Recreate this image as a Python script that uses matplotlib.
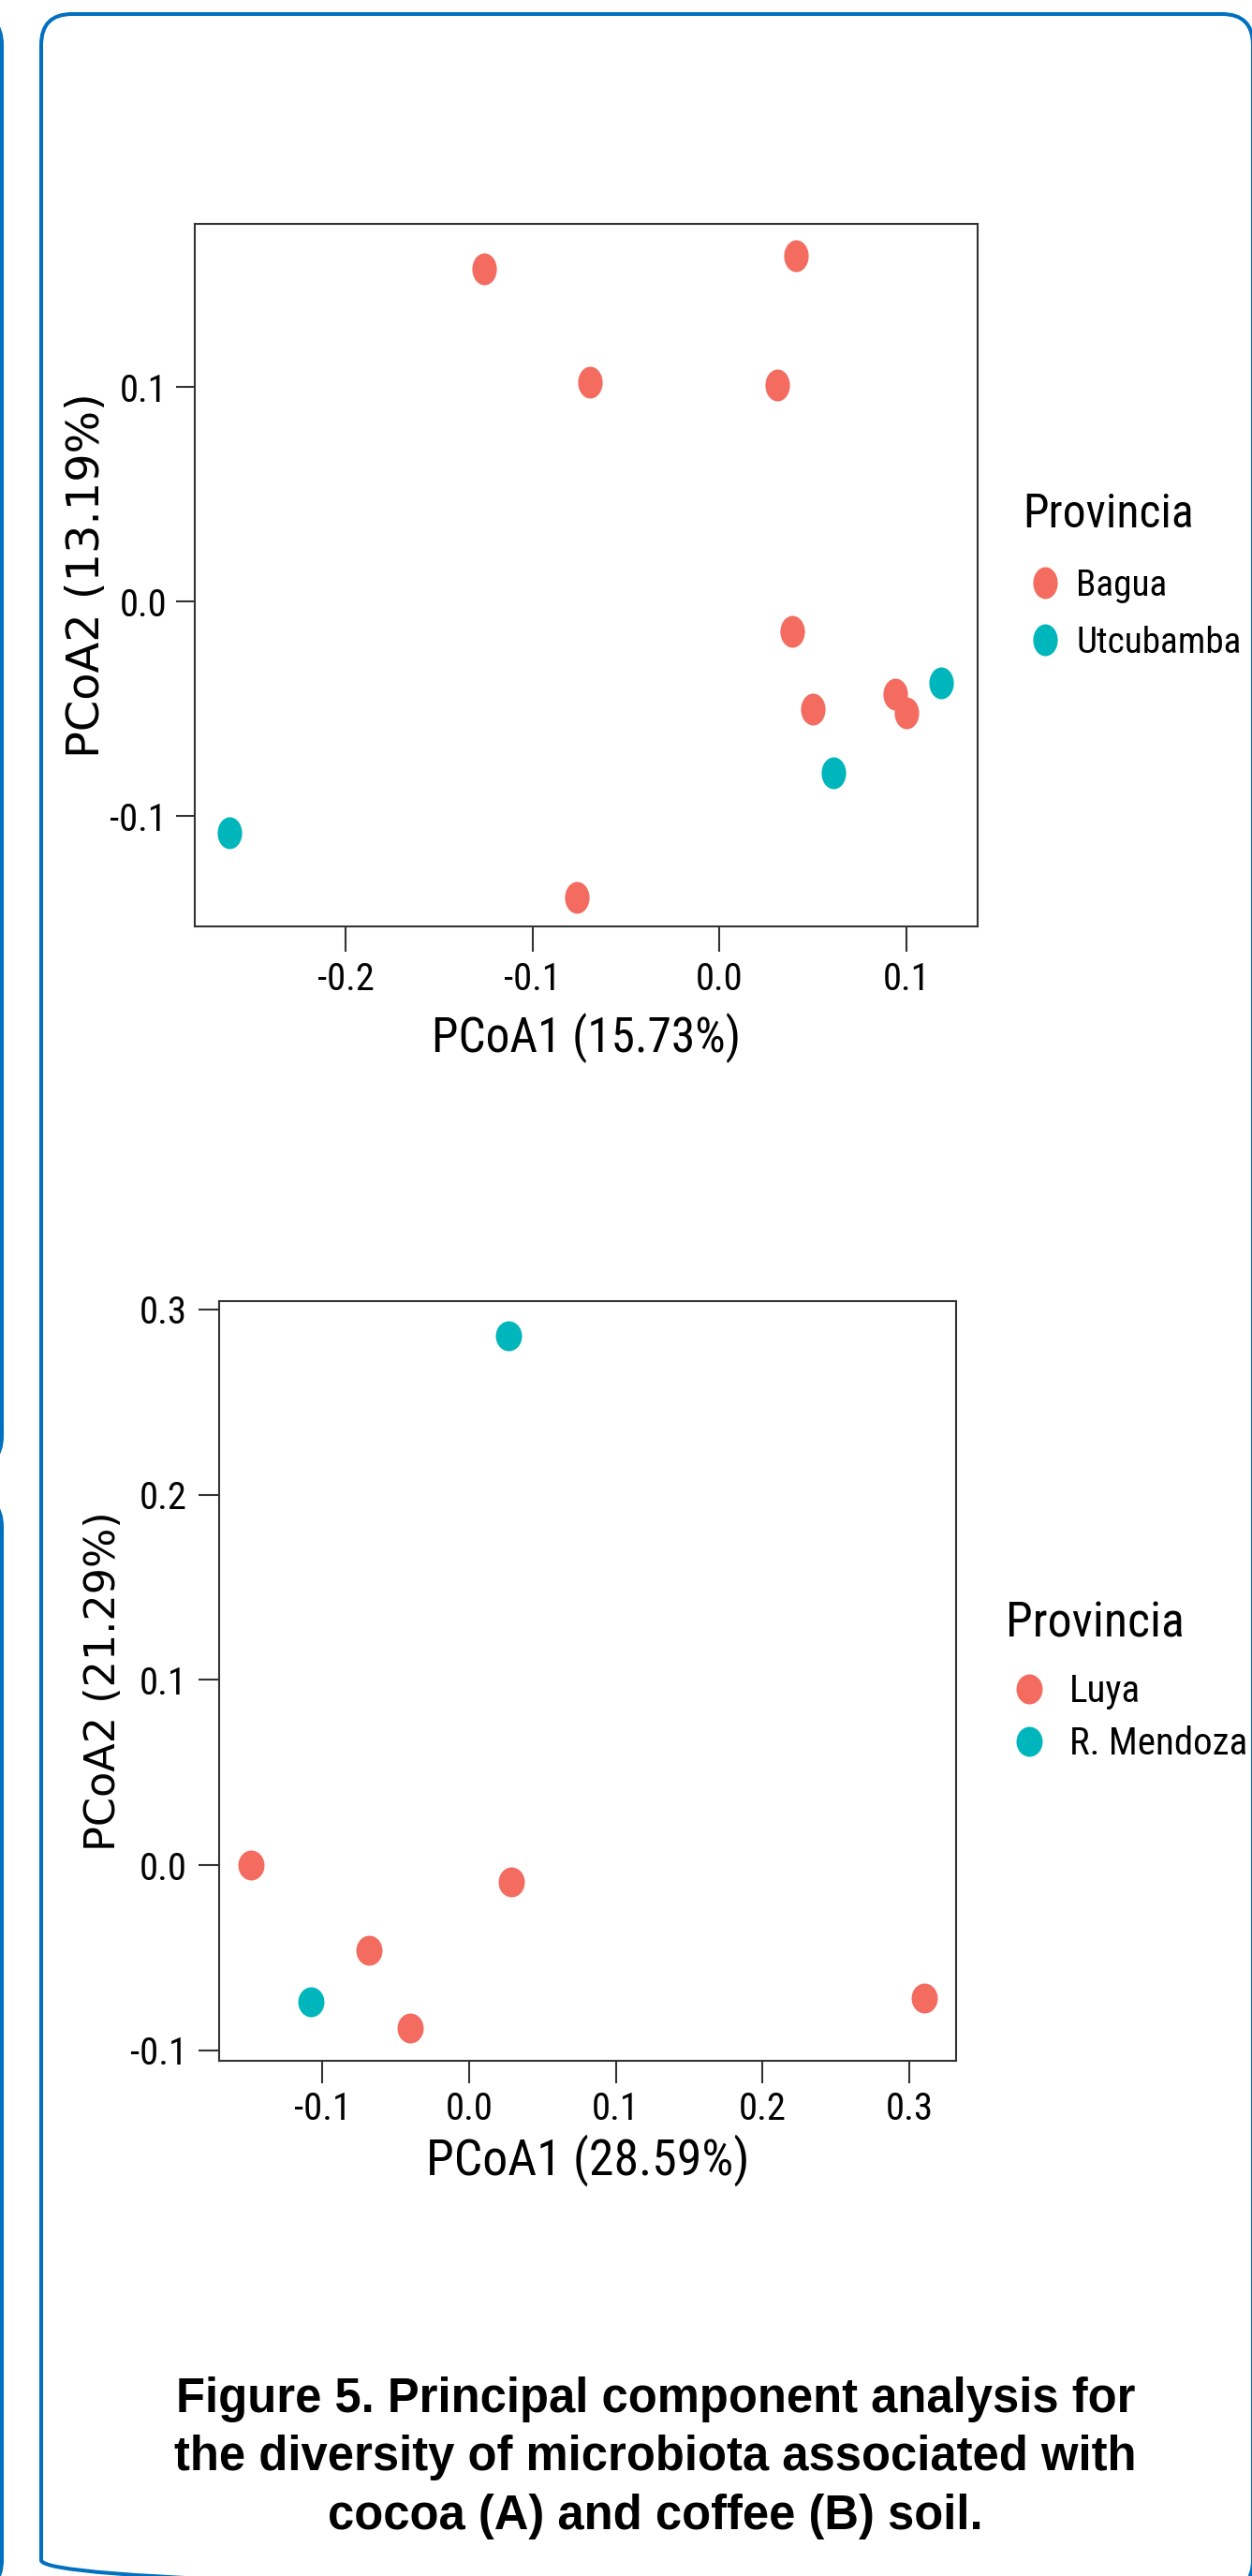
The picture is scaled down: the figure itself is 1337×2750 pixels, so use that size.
import matplotlib
matplotlib.use("Agg")
import matplotlib.pyplot as plt
from matplotlib import font_manager
from matplotlib.patches import FancyBboxPatch
from matplotlib.path import Path
from matplotlib.transforms import Affine2D
from matplotlib.ticker import FixedLocator, FormatStrFormatter

# (A) cocoa soil
bagua_x = [-0.126, 0.041, -0.069, 0.031, 0.039, 0.050, 0.094, 0.100, -0.076]
bagua_y = [0.155, 0.161, 0.102, 0.101, -0.014, -0.050, -0.043, -0.052, -0.138]
utcubamba_x = [-0.262, 0.061, 0.119]
utcubamba_y = [-0.108, -0.080, -0.038]
cocoa_xticks = [-0.2, -0.1, 0.0, 0.1]
cocoa_yticks = [-0.1, 0.0, 0.1]

# (B) coffee soil
luya_x = [-0.149, 0.029, -0.068, -0.040, 0.310]
luya_y = [0.000, -0.009, -0.046, -0.088, -0.072]
mendoza_x = [0.027, -0.108]
mendoza_y = [0.286, -0.074]
coffee_xticks = [-0.1, 0.0, 0.1, 0.2, 0.3]
coffee_yticks = [-0.1, 0.0, 0.1, 0.2, 0.3]

caption_lines = [
    "Figure 5. Principal component analysis for",
    "the diversity of microbiota associated with",
    "cocoa (A) and coffee (B) soil.",
]

RED = "#F36C5F"
TEAL = "#00B6BD"
BLUE = "#0070C0"

# the R plots use a narrow looking Helvetica; take a condensed face if one is installed
entries = font_manager.fontManager.ttflist
names = {f.name for f in entries}
NARROW, STRETCH = "Liberation Sans", "normal"
for cand in ["Roboto Condensed", "Liberation Sans Narrow", "Arial Narrow", "Open Sans Condensed",
             "Noto Sans Condensed", "DejaVu Sans Condensed"]:
    if cand in names:
        NARROW = cand
        break
else:
    for f in entries:
        if f.name in ("Roboto", "Noto Sans", "Open Sans") and str(f.stretch) == "condensed":
            NARROW, STRETCH = f.name, "condensed"
            break

plt.rcParams["font.family"] = [NARROW, "Liberation Sans"]
plt.rcParams["font.stretch"] = STRETCH
plt.rcParams["axes.unicode_minus"] = False

W, H, DPI = 1337, 2750, 100
fig = plt.figure(figsize=(W / DPI, H / DPI), dpi=DPI)
renderer = fig.canvas.get_renderer()


def fit(text, width, **kw):
    # font size (pt) that gives the text this width in pixels
    t = fig.text(0, 0, text, fontsize=20, **kw)
    w = t.get_window_extent(renderer=renderer).width
    t.remove()
    return 20 * width / w


# pixel canvas for the blue frames, legend titles and the caption
bg = fig.add_axes([0, 0, 1, 1], zorder=0)
bg.set_xlim(0, W)
bg.set_ylim(H, 0)
bg.axis("off")


def add_box(x0, y0, x1, y1):
    bg.add_patch(FancyBboxPatch((x0, y0), x1 - x0, y1 - y0,
                                boxstyle="round,pad=0,rounding_size=33",
                                fill=False, ec=BLUE, lw=2.9))


add_box(-200, 15, 2, 1566)
add_box(-200, 1597, 2, 2766)
add_box(44, 15, 1338, 2766)


def px_axes(left, top, right, bottom):
    return fig.add_axes([left / W, 1 - bottom / H, (right - left) / W, (bottom - top) / H], zorder=1)


def ellipse(ratio):
    # dots in the figure are a little taller than wide
    return Affine2D().scale(ratio, 1.0).transform_path(Path.unit_circle())


def style(ax, xticks, yticks, xlen, ylen, xpad, ypad, fs):
    ax.xaxis.set_major_locator(FixedLocator(xticks))
    ax.yaxis.set_major_locator(FixedLocator(yticks))
    ax.xaxis.set_major_formatter(FormatStrFormatter("%.1f"))
    ax.yaxis.set_major_formatter(FormatStrFormatter("%.1f"))
    for s in ax.spines.values():
        s.set_color("#333333")
        s.set_linewidth(1.5)
    ax.tick_params(axis="x", length=xlen, width=1.5, pad=xpad, color="#333333", labelsize=fs)
    ax.tick_params(axis="y", length=ylen, width=1.5, pad=ypad, color="#333333", labelsize=fs)


def legend(ax, left, row1, row_gap, dot_x, text_x, fs, title_y, title_fs):
    # positions in figure pixels; row1 = centre of the first entry
    fpx = fs / 0.72
    hl = 2 * (dot_x - left) / fpx
    top = row1 - 0.385 * fpx
    pos = ax.transAxes.inverted().transform((left, H - top))
    ax.legend(loc="upper left", bbox_to_anchor=tuple(pos),
              borderaxespad=0, borderpad=0, frameon=False, fontsize=fs,
              handlelength=hl, handletextpad=(text_x - dot_x) / fpx - hl / 2,
              labelspacing=(row_gap - 0.95 * fpx) / fpx,
              scatterpoints=1, scatteryoffsets=[0.5])
    bg.text(left, title_y, "Provincia", ha="left", va="baseline", fontsize=title_fs)


# ---- A: cocoa
ax1 = px_axes(208, 239, 1044, 989)
m1 = ellipse(0.77)
ax1.scatter(bagua_x, bagua_y, s=600, marker=m1, color=RED, lw=0, label="Bagua")
ax1.scatter(utcubamba_x, utcubamba_y, s=600, marker=m1, color=TEAL, lw=0, label="Utcubamba")
ax1.set_xlim(-0.2807, 0.1383)
ax1.set_ylim(-0.1515, 0.176)
style(ax1, cocoa_xticks, cocoa_yticks, 19.4, 14.4, 7.2, 7.2, fit("-0.2", 61))
ax1.set_xlabel("PCoA1 (15.73%)", fontsize=fit("PCoA1 (15.73%)", 330), va="baseline")
ax1.xaxis.set_label_coords(0.5, -0.1787)
ax1.set_ylabel("PCoA2 (13.19%)", fontsize=34.5, family="DejaVu Sans", stretch="normal", va="center")
ax1.yaxis.set_label_coords(-0.1376, 0.5)
legend(ax1, 1092, 622, 61, 1116, 1149, fit("Utcubamba", 176), 563, fit("Provincia", 182))

# ---- B: coffee
ax2 = px_axes(234, 1389, 1021, 2200)
m2 = ellipse(0.875)
ax2.scatter(luya_x, luya_y, s=530, marker=m2, color=RED, lw=0, label="Luya")
ax2.scatter(mendoza_x, mendoza_y, s=530, marker=m2, color=TEAL, lw=0, label="R. Mendoza")
ax2.set_xlim(-0.1704, 0.3318)
ax2.set_ylim(-0.1057, 0.3045)
style(ax2, coffee_xticks, coffee_yticks, 17.3, 15.8, 5.8, 8.6, fit("-0.1", 61))
ax2.set_xlabel("PCoA1 (28.59%)", fontsize=fit("PCoA1 (28.59%)", 345), va="baseline")
ax2.xaxis.set_label_coords(0.5, -0.1504)
ax2.set_ylabel("PCoA2 (21.29%)", fontsize=32, family="DejaVu Sans", stretch="normal", va="center")
ax2.yaxis.set_label_coords(-0.1563, 0.5)
legend(ax2, 1074, 1802, 56, 1099, 1142, fit("R. Mendoza", 190), 1747, fit("Provincia", 190))

# caption
cap_fs = fit(caption_lines[1], 1024, family="Liberation Sans", weight="bold")
for i, line in enumerate(caption_lines):
    bg.text(700, 2575 + 62.5 * i, line, ha="center", va="baseline",
            family="Liberation Sans", weight="bold", fontsize=cap_fs)

fig.savefig("out.png", dpi=DPI)
